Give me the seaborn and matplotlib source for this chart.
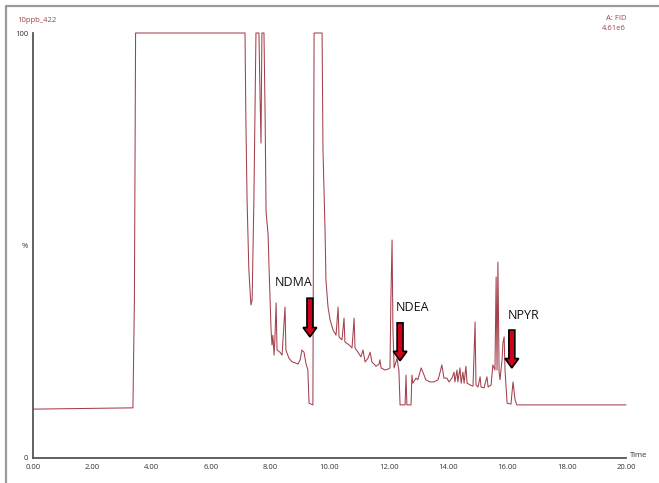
import matplotlib
matplotlib.use("Agg")
import matplotlib.pyplot as plt
from matplotlib.lines import Line2D
from matplotlib.patches import FancyArrow
from matplotlib.ticker import MultipleLocator, FuncFormatter
import seaborn as sns
import pandas as pd

# Chromatogram trace: retention time (min) and detector response (% of full scale)
time_min = [
    0.00, 3.37, 3.42, 3.46, 7.15, 7.18, 7.22, 7.28, 7.35, 7.39, 7.45, 7.52, 7.62, 7.66,
    7.69, 7.72, 7.79, 7.83, 7.86, 7.93, 7.96, 8.00, 8.03, 8.06, 8.09, 8.13, 8.16, 8.20,
    8.23, 8.33, 8.40, 8.50, 8.53, 8.63, 8.74, 8.84, 8.94, 9.01, 9.07, 9.14, 9.21, 9.27,
    9.31, 9.44, 9.48, 9.75, 9.78, 9.85, 9.88, 9.95, 10.02, 10.12, 10.22, 10.29, 10.32,
    10.42, 10.49, 10.52, 10.66, 10.76, 10.83, 10.86, 10.96, 11.06, 11.13, 11.20, 11.30,
    11.37, 11.43, 11.57, 11.67, 11.70, 11.74, 11.87, 11.97, 12.04, 12.07, 12.11, 12.14,
    12.18, 12.24, 12.28, 12.31, 12.34, 12.38, 12.55, 12.58, 12.61, 12.75, 12.78, 12.81,
    12.92, 12.98, 13.09, 13.15, 13.25, 13.39, 13.52, 13.66, 13.73, 13.79, 13.86, 13.96,
    14.03, 14.13, 14.20, 14.23, 14.30, 14.33, 14.40, 14.44, 14.50, 14.54, 14.60, 14.64,
    14.74, 14.84, 14.91, 14.94, 15.01, 15.08, 15.11, 15.21, 15.31, 15.35, 15.45, 15.51,
    15.58, 15.62, 15.65, 15.68, 15.72, 15.75, 15.82, 15.85, 15.89, 15.92, 15.99, 16.12,
    16.19, 16.26, 16.32, 20.00,
]
response_pct = [
    11.5, 11.8, 37.2, 100.0, 100.0, 79.5, 60.7, 44.2, 36.0, 37.2, 60.7, 100.0, 100.0, 84.2,
    74.1, 100.0, 100.0, 79.5, 58.0, 52.5, 45.0, 36.0, 30.0, 26.6, 28.9, 24.2, 28.2, 36.5,
    25.4, 24.9, 24.2, 35.5, 25.4, 23.5, 22.6, 22.4, 22.1, 23.1, 25.4, 24.9, 22.1, 20.7,
    12.9, 12.5, 100.0, 100.0, 72.5, 53.6, 41.9, 35.5, 32.5, 30.1, 28.9, 35.5, 28.5,
    27.8, 32.9, 27.3, 26.6, 25.9, 32.9, 25.9, 24.9, 23.8, 25.4, 22.6, 23.5,
    24.9, 22.6, 21.6, 22.1, 23.1, 21.2, 20.7, 20.9, 21.2, 37.2, 51.3, 30.1,
    21.2, 22.6, 23.5, 21.9, 20.7, 12.5, 12.5, 19.5, 12.5, 12.5, 19.5, 17.6,
    18.8, 18.4, 21.2, 20.2, 18.4, 17.9, 17.9, 18.4, 20.2, 21.9, 18.8, 18.8,
    17.9, 18.8, 20.2, 17.9, 20.7, 17.9, 21.2, 17.6, 20.2, 17.6, 21.6, 17.6,
    17.2, 16.9, 32.0, 17.2, 16.7, 19.1, 16.7, 16.5, 19.1, 16.7, 17.2, 21.9,
    20.7, 42.6, 20.7, 46.1, 20.2, 18.4, 23.1, 27.1, 28.5, 20.7, 12.9, 12.7,
    17.9, 13.6, 12.5, 12.5,
]

# Marked analytes: name, retention time, arrow top / tip (%), label position
analytes = ["NDMA", "NDEA", "NPYR"]
arrow_time = [9.34, 12.38, 16.15]
arrow_top = [37.6, 31.8, 30.1]
arrow_tip = [28.5, 22.9, 21.2]
label_time = [8.78, 12.80, 16.55]
label_pct = [41.2, 35.5, 33.6]

sample_name = "10ppb_422"
detector = "A: FID"
scale_text = "4.61e6"

trace_color = "#a3404b"
axis_color = "#555555"
text_color = "#333333"

sns.set_style("white")
plt.rcParams["font.family"] = ["Open Sans", "DejaVu Sans"]

W, H = 659, 483
fig = plt.figure(figsize=(W / 100, H / 100), dpi=100)
ax = fig.add_axes([33 / W, 1 - 458 / H, (626 - 33) / W, (458 - 33) / H])

df = pd.DataFrame({"Time": time_min, "Response": response_pct})
sns.lineplot(data=df, x="Time", y="Response", ax=ax, color=trace_color,
             linewidth=0.75, sort=False, estimator=None, clip_on=False)

ax.set_xlim(0, 20)
ax.set_ylim(0, 100)
ax.set_xlabel("")
ax.set_ylabel("")

for s in ["top", "right"]:
    ax.spines[s].set_visible(False)
for s in ["left", "bottom"]:
    ax.spines[s].set_color(axis_color)
    ax.spines[s].set_linewidth(1.3)

ax.xaxis.set_major_locator(MultipleLocator(1))
ax.xaxis.set_minor_locator(MultipleLocator(0.2))
ax.xaxis.set_major_formatter(FuncFormatter(
    lambda v, p: f"{v:.2f}" if round(v) % 2 == 0 else ""))
ax.yaxis.set_major_locator(MultipleLocator(50))
ax.yaxis.set_minor_locator(MultipleLocator(10))
ax.yaxis.set_major_formatter(FuncFormatter(
    lambda v, p: {0: "0", 50: "%", 100: "100"}.get(int(round(v)), "")))

ax.tick_params(axis="x", which="major", direction="out", length=3, width=0.8,
               color=axis_color, labelsize=5.5, labelcolor=text_color, pad=1)
ax.tick_params(axis="x", which="minor", direction="out", length=1.8, width=0.6,
               color=axis_color)
ax.tick_params(axis="y", which="major", direction="out", length=2.5, width=0.8,
               color=axis_color, labelsize=5.5, labelcolor=text_color, pad=1)
ax.tick_params(axis="y", which="minor", direction="out", length=1.5, width=0.6,
               color=axis_color)

ax.text(20.13, 0.6, "Time", fontsize=5.5, color=text_color, ha="left", va="center",
        clip_on=False)

# Header texts
fig.text(17 / W, 1 - 20 / H, sample_name, fontsize=5.5, color=trace_color,
         ha="left", va="center")
fig.text(626 / W, 1 - 19 / H, detector, fontsize=5.5, color=trace_color,
         ha="right", va="center")
fig.text(626 / W, 1 - 28 / H, scale_text, fontsize=5.5, color=trace_color,
         ha="right", va="center")

# Outer frame (open toward bottom and right)
fig.add_artist(Line2D([6 / W, 6 / W, 1.0], [-0.01, 1 - 6 / H, 1 - 6 / H],
                      transform=fig.transFigure, color="#9a9a9a", linewidth=1.6))

# Analyte arrows and labels
for name, t, top, tip, lt, lp in zip(analytes, arrow_time, arrow_top, arrow_tip,
                                     label_time, label_pct):
    arr = FancyArrow(t, top, 0, tip - top, width=0.2, head_width=0.46,
                     head_length=2.2, length_includes_head=True,
                     facecolor="#d0021b", edgecolor="black", linewidth=1.2,
                     zorder=5)
    ax.add_patch(arr)
    ax.text(lt, lp, name, fontsize=9, color="#111111", ha="center", va="center")

fig.savefig("out.png", dpi=100)
